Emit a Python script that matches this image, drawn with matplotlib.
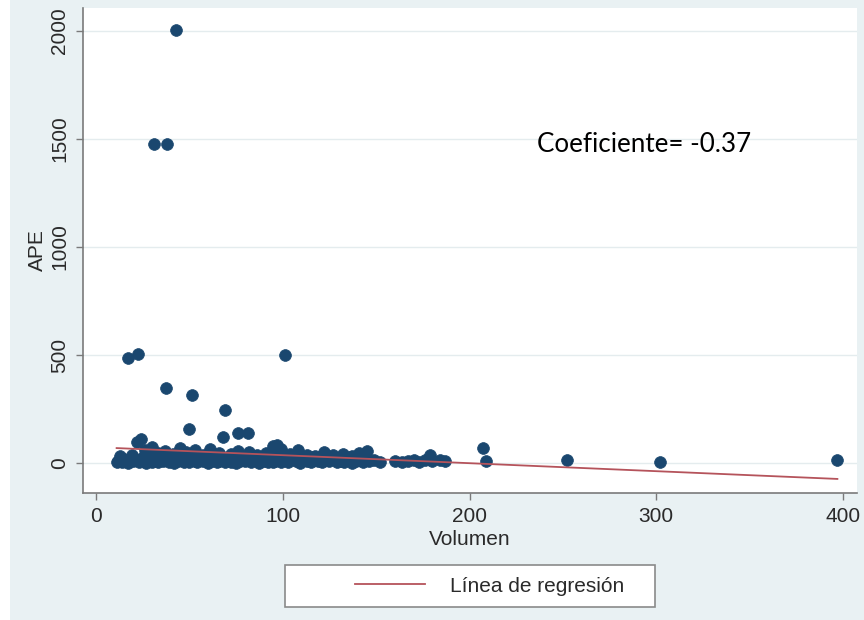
import numpy as np
import matplotlib
matplotlib.use("Agg")
import matplotlib.pyplot as plt
from matplotlib.patches import Rectangle

# 字体: Stata 风格
plt.rcParams['font.family'] = ['Liberation Sans', 'DejaVu Sans']

# 数据
# 底部密集带
base_x = [11, 12, 14, 15, 17, 18, 20, 21, 23, 24,
          26, 27, 29, 30, 32, 33, 35, 36, 38, 39,
          41, 42, 44, 45, 47, 48, 50, 51, 53, 54,
          56, 57, 59, 60, 62, 63, 65, 66, 68, 69,
          71, 72, 74, 75, 77, 78, 80, 81, 83, 84,
          86, 87, 89, 90, 92, 93, 95, 96, 98, 99,
          101, 103, 105, 107, 109, 111, 113, 115, 117, 119,
          121, 123, 125, 127, 129, 131, 133, 135, 137, 139,
          141, 143, 146, 149, 152, 160, 164, 167, 170, 173,
          176, 180, 184, 187]
base_y = [3, 10, 5, 18, 2, 12, 7, 20, 4, 14,
          9, 2, 16, 6, 11, 3, 19, 8, 13, 5,
          15, 1, 10, 22, 6, 12, 4, 17, 9, 3,
          14, 7, 20, 2, 11, 16, 5, 9, 18, 3,
          12, 6, 15, 2, 10, 19, 7, 13, 4, 16,
          8, 2, 14, 11, 5, 18, 3, 9, 15, 6,
          12, 4, 17, 8, 2, 13, 10, 5, 16, 7,
          3, 12, 9, 18, 4, 11, 6, 14, 2, 10,
          15, 5, 8, 12, 6, 10, 4, 8, 12, 6,
          14, 10, 16, 8]
# 第二层
mid_x = [13, 19, 25, 31, 36, 43, 49, 55, 62, 67,
         73, 79, 85, 90, 97, 102, 110, 116, 124, 130,
         136, 142]
mid_y = [30, 35, 28, 38, 32, 36, 30, 34, 38, 30,
         35, 28, 33, 30, 36, 28, 32, 26, 30, 25,
         28, 24]
# 密集带上沿
upper_x = [22, 26, 30, 33, 37, 41, 45, 48, 53, 57,
           61, 66, 72, 76, 82, 86, 91, 95, 99, 104,
           108, 113, 117, 122, 127, 132, 137, 141, 145, 179]
upper_y = [95, 60, 75, 45, 55, 40, 70, 50, 60, 35,
           65, 45, 40, 55, 50, 35, 45, 80, 65, 40,
           60, 35, 30, 50, 35, 40, 30, 45, 55, 35]
# 离群点
out_x = [43, 31, 38, 17, 22.5, 101, 37.5, 51.5, 69, 50,
         24, 68, 76, 81.5, 97, 207, 209, 252, 302, 397]
out_y = [2005, 1475, 1475, 485, 505, 500, 347, 315, 245, 155,
         110, 120, 140, 140, 85, 68, 8, 12, 6, 16]

volumen = np.array(base_x + mid_x + upper_x + out_x, dtype=float)
ape = np.array(base_y + mid_y + upper_y + out_y, dtype=float)

# 回归线
reg_intercept = 73
reg_slope = -0.37
reg_x = np.array([volumen.min(), volumen.max()])
reg_y = reg_intercept + reg_slope * reg_x

coef_text = "Coeficiente= -0.37"
legend_label = "Línea de regresión"

bg = '#e9f1f3'
navy = '#1a476f'
maroon = '#b5535b'
axis_gray = '#7a7a7a'
txt = '#2a2a2a'

fig = plt.figure(figsize=(8.64, 6.2), dpi=100, facecolor=bg)
ax = fig.add_axes([83 / 864, 1 - 493 / 620, (857 - 83) / 864, (493 - 8) / 620])
ax.set_facecolor('white')

# 网格线
for yv in [0, 500, 1000, 1500, 2000]:
    ax.axhline(yv, color='#e4ecee', lw=1.0, zorder=0)

ax.scatter(volumen, ape, s=72, color=navy, edgecolors=navy, linewidths=0.5, zorder=2)
ax.plot(reg_x, reg_y, color=maroon, lw=1.3, zorder=3, label=legend_label)

ax.set_xlim(-7, 407.5)
ax.set_ylim(-139, 2106)
ax.set_xticks([0, 100, 200, 300, 400])
ax.set_yticks([0, 500, 1000, 1500, 2000])

for s in ['top', 'right']:
    ax.spines[s].set_visible(False)
for s in ['left', 'bottom']:
    ax.spines[s].set_color(axis_gray)
    ax.spines[s].set_linewidth(1.2)

ax.tick_params(axis='both', direction='out', length=5, width=1, color=axis_gray,
               labelsize=15, labelcolor=txt, pad=5)
for lab in ax.get_yticklabels():
    lab.set_rotation(90)
    lab.set_va('center')

ax.set_xlabel("Volumen", fontsize=15, color=txt, labelpad=3)
ax.set_ylabel("APE", fontsize=15, color=txt, labelpad=2)

ax.text(236, 1440, coef_text, fontsize=18.7, family=['Lato', 'DejaVu Sans'],
        color='black', va='baseline', ha='left')

# 图例
fig.patches.append(Rectangle((285 / 864, 1 - 607 / 620), 370 / 864, 42 / 620,
                             transform=fig.transFigure, facecolor='white',
                             edgecolor='#8a8a8a', lw=1.2, zorder=1))
leg = fig.legend(loc='center left', bbox_to_anchor=(345 / 864, 1 - 586 / 620),
                 frameon=False, fontsize=15, handlelength=3.35, handletextpad=1.2,
                 borderpad=0, labelcolor=txt)
leg.set_zorder(5)

# 左侧白边
fig.patches.append(Rectangle((0, 0), 10 / 864, 1, transform=fig.transFigure,
                             facecolor='white', edgecolor='none', zorder=0))

fig.savefig("out.png", dpi=100, facecolor=bg)
